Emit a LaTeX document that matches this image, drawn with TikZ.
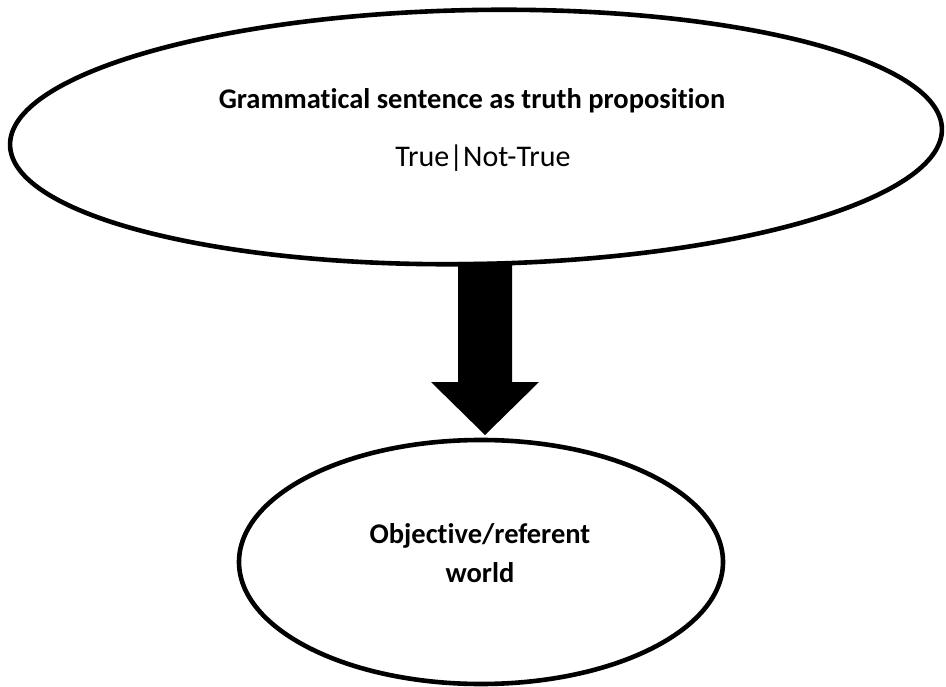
\documentclass[tikz,border=0pt]{standalone}
\usepackage{fontspec}
\setmainfont{Carlito}[Ligatures={NoCommon}]
\usetikzlibrary{shapes.geometric,calc}
\begin{document}
\begin{tikzpicture}[x=1pt,y=-1pt,
  oval/.style={draw=black,line width=4.6pt,ellipse,inner sep=0pt},
  lbl/.style={anchor=base,inner sep=0pt,font=\fontsize{30}{36}\selectfont},
  lblb/.style={anchor=base,inner sep=0pt,font=\fontsize{28.5}{34}\selectfont\bfseries},
  blockarrow/.style={fill=black,draw=none}]
\useasboundingbox (0,0) rectangle (946,687);
\fill[white] (0,0) rectangle (946,687);
% ellipses
\node[oval,minimum width=932pt,minimum height=254pt,rotate=1] (top) at (476,137) {};
\node[oval,minimum width=484pt,minimum height=244pt] (bot) at (481,562) {};
% texts
\node[lblb] (t1) at (472,109) {Grammatical sentence as truth proposition};
\node[lbl] (t2) at (483,167) {True|Not-True};
\node[lblb] (b1) at (480,543) {Objective/referent};
\node[lblb] (b2) at (480,582) {world};
% connector
\coordinate (s) at (485,262);
\coordinate (tip) at (485,435);
\fill[blockarrow] (tip) -- ($(tip)+(54,-53)$) -- ($(tip)+(27,-53)$) -- ($(s)+(27,0)$)
  -- ($(s)+(-27,0)$) -- ($(tip)+(-27,-53)$) -- ($(tip)+(-54,-53)$) -- cycle;
\end{tikzpicture}
\end{document}
